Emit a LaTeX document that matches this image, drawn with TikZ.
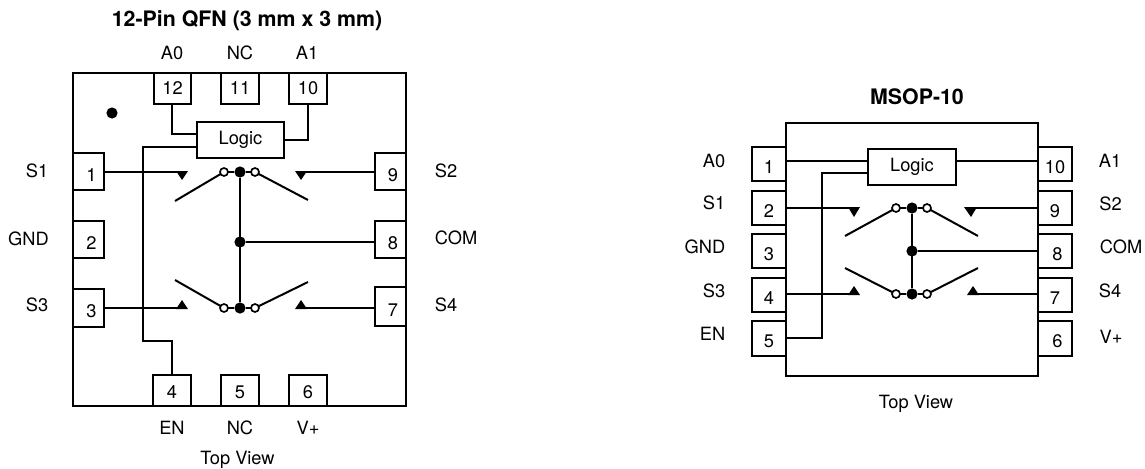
\documentclass[tikz,border=0pt]{standalone}
\usepackage{fontspec}
\setmainfont{TeX Gyre Heros}
\newcommand{\boxn}[6]{\node[boxn,minimum width={(#4-#2)*0.75pt},minimum height={(#5-#3)*0.75pt}] (#1) at ({(#2+#4)/2},{(#3+#5)/2}) {#6};}
\newcommand{\off}[3]{\hspace*{#1}\raisebox{-#2}[\height][0pt]{#3}}
\newcommand{\lbl}[4][]{\node[lab] (#2) at (#3) {#4};}
\tikzset{
  boxn/.style={draw,line width=1.5pt,fill=white,inner sep=0pt,outer sep=0pt,font=\fontsize{13.7}{15}\selectfont},
  lab/.style={inner sep=0pt,font=\fontsize{13.7}{15}\selectfont},
  ttl/.style={inner sep=0pt,font=\fontsize{16}{18}\selectfont\bfseries},
  wire/.style={line width=1.5pt,line join=miter},
  lever/.style={line width=1.5pt},
  solid dot/.style={circle,fill=black,draw=none,minimum size=8.4pt,inner sep=0pt,outer sep=0pt},
  open dot/.style={circle,fill=white,draw=black,line width=1.25pt,minimum size=6pt,inner sep=0pt,outer sep=0pt},
}
\begin{document}
\begin{tikzpicture}[x=0.75pt,y=-0.75pt]
\useasboundingbox (0,0) rectangle (1145,468);
% ---------- QFN ----------
\boxn{qfn}{73}{73}{406}{406}{}
\node[solid dot] (qmark) at (112,113) {};
\boxn{q12}{154}{73}{191}{104}{12}
\boxn{q11}{221}{73}{259}{104}{11}
\boxn{q10}{289}{73}{327}{104}{10}
\boxn{q1}{73}{153}{104}{190}{\off{4.5pt}{2.4pt}{1}}
\boxn{q2}{73}{221}{104}{258}{\off{4.5pt}{2.6pt}{2}}
\boxn{q3}{73}{289}{104}{327}{\off{4.5pt}{2.2pt}{3}}
\boxn{q9}{375}{153}{406}{190}{\off{3.5pt}{2.4pt}{9}}
\boxn{q8}{375}{221}{406}{258}{\off{3.5pt}{2.6pt}{8}}
\boxn{q7}{375}{287}{406}{326}{\off{3.5pt}{2.6pt}{7}}
\boxn{q4}{153}{375}{191}{406}{\off{0pt}{1pt}{4}}
\boxn{q5}{221}{375}{259}{406}{\off{0pt}{1pt}{5}}
\boxn{q6}{289}{375}{327}{406}{\off{0pt}{1pt}{6}}
\boxn{qlogic}{197}{122}{284}{158}{Logic}
% logic wires
\coordinate (q12a) at (172,134); \coordinate (q12b) at (197,134);
\draw[wire] (172,104) -- (q12a) -- (q12b);
\coordinate (q10a) at (308,140); \coordinate (q10b) at (284,140);
\draw[wire] (308,104) -- (q10a) -- (q10b);
\coordinate (qen0) at (197,147); \coordinate (qen1) at (143,147);
\coordinate (qen2) at (143,341); \coordinate (qen3) at (172,341); \coordinate (qen4) at (172,375);
\draw[wire] (qen0) -- (qen1) -- (qen2) -- (qen3) -- (qen4);
% switch nodes
\node[solid dot] (qct) at (240,172) {};
\node[solid dot] (qcm) at (240,242) {};
\node[solid dot] (qcb) at (240,308) {};
\node[open dot] (qotl) at (224,172) {};
\node[open dot] (qotr) at (255,172) {};
\node[open dot] (qobl) at (224,308) {};
\node[open dot] (qobr) at (255,308) {};
\draw[wire] (qotl) -- (qct) -- (qotr);
\draw[wire] (qobl) -- (qcb) -- (qobr);
\draw[wire] (qct) -- (qcb);
\draw[wire] (qcm) -- (q8.west |- qcm);
% levers
\coordinate (qltl) at (175,201); \coordinate (qltr) at (308,200);
\coordinate (qlbl) at (175,280); \coordinate (qlbr) at (308,282);
\draw[lever] (qltl) -- (qotl); \draw[lever] (qltr) -- (qotr);
\draw[lever] (qlbl) -- (qobl); \draw[lever] (qlbr) -- (qobr);
% contacts
\coordinate (qc1) at (182,172); \coordinate (qc9) at (301,172);
\coordinate (qc3) at (182,308); \coordinate (qc7) at (301,308);
\draw[wire] (q1.east |- qc1) -- (qc1);
\draw[wire] (q9.west |- qc9) -- (qc9);
\draw[wire] (q3.east |- qc3) -- (qc3);
\draw[wire] (q7.west |- qc7) -- (qc7);
\fill (176,171) -- (188,171) -- (182,180) -- cycle;
\fill (295,171) -- (307,171) -- (301,180) -- cycle;
\fill (176,309) -- (188,309) -- (182,300) -- cycle;
\fill (295,309) -- (307,309) -- (301,300) -- cycle;
% labels
\node[ttl] (qt) at (247,21) {12-Pin QFN (3 mm x 3 mm)};
\lbl{la0}{172,53}{A0} \lbl{lnc1}{240,53}{NC} \lbl{la1}{307,53}{A1}
\lbl{ls1}{37,171}{S1} \lbl{lgnd}{28.5,239}{GND} \lbl{ls3}{37,305}{S3}
\lbl{ls2}{446,171}{S2} \lbl{lcom}{456,238}{COM} \lbl{ls4}{446,305}{S4}
\lbl{len}{172,428}{EN} \lbl{lnc2}{240,428}{NC} \lbl{lvp}{308,428}{V+}
\lbl{ltv}{237.5,460}{Top View}
% ---------- MSOP ----------
\boxn{m1}{752}{147}{786}{181}{\off{0pt}{2.2pt}{1}}
\boxn{m2}{752}{191}{786}{225}{\off{0pt}{2.2pt}{2}}
\boxn{m3}{752}{234}{786}{268}{\off{0pt}{2.2pt}{3}}
\boxn{m4}{752}{278}{786}{312}{\off{0pt}{2.2pt}{4}}
\boxn{m5}{752}{321}{786}{356}{\off{0pt}{2.2pt}{5}}
\boxn{m10}{1038}{147}{1072}{181}{\off{0pt}{2.2pt}{10}}
\boxn{m9}{1038}{191}{1072}{225}{\off{0pt}{2.2pt}{9}}
\boxn{m8}{1038}{234}{1072}{268}{\off{3.5pt}{2.2pt}{8}}
\boxn{m7}{1038}{278}{1072}{312}{\off{0pt}{2.2pt}{7}}
\boxn{m6}{1038}{321}{1072}{356}{\off{3.5pt}{2.2pt}{6}}
\boxn{msop}{786}{123}{1038}{376}{}
\boxn{mlogic}{868}{149}{956}{185}{Logic}
\coordinate (mw1) at (868,161); \coordinate (mw10) at (956,161);
\draw[wire] (786,161) -- (mw1);
\draw[wire] (mw10) -- (1038,161);
\coordinate (men0) at (868,173); \coordinate (men1) at (822,173);
\coordinate (men2) at (822,338); \coordinate (men3) at (786,338);
\draw[wire] (men0) -- (men1) -- (men2) -- (men3);
\node[solid dot] (mct) at (912,208) {};
\node[solid dot] (mcm) at (912,251) {};
\node[solid dot] (mcb) at (912,294) {};
\node[open dot] (motl) at (896,208) {};
\node[open dot] (motr) at (927,208) {};
\node[open dot] (mobl) at (896,294) {};
\node[open dot] (mobr) at (927,294) {};
\draw[wire] (motl) -- (mct) -- (motr);
\draw[wire] (mobl) -- (mcb) -- (mobr);
\draw[wire] (mct) -- (mcb);
\draw[wire] (mcm) -- (1038,251);
\coordinate (mltl) at (845,236); \coordinate (mltr) at (978,236);
\coordinate (mlbl) at (845,268); \coordinate (mlbr) at (978,268);
\draw[lever] (mltl) -- (motl); \draw[lever] (mltr) -- (motr);
\draw[lever] (mlbl) -- (mobl); \draw[lever] (mlbr) -- (mobr);
\coordinate (mc2) at (854,208); \coordinate (mc9) at (971,208);
\coordinate (mc4) at (854,294); \coordinate (mc7) at (973,294);
\draw[wire] (786,208) -- (mc2);
\draw[wire] (1038,208) -- (mc9);
\draw[wire] (786,294) -- (mc4);
\draw[wire] (1038,294) -- (mc7);
\fill (848,207) -- (860,207) -- (854,217) -- cycle;
\fill (964,207) -- (977,207) -- (971,217) -- cycle;
\fill (848,295) -- (860,295) -- (854,286) -- cycle;
\fill (967,295) -- (979,295) -- (973,286) -- cycle;
\node[ttl] (mt) at (917,97) {MSOP-10};
\lbl{ma0}{714,161}{A0} \lbl{ms1}{714,203}{S1} \lbl{mgnd}{705,247}{GND}
\lbl{ms3}{714,291}{S3} \lbl{men}{712.5,334}{EN}
\lbl{ma1}{1110,161}{A1} \lbl{ms2}{1110.5,204}{S2} \lbl{mcom}{1121,247}{COM}
\lbl{ms4}{1110,291}{S4} \lbl{mvp}{1111,337}{V+}
\lbl{mtv}{916,404}{Top View}
\end{tikzpicture}
\end{document}
